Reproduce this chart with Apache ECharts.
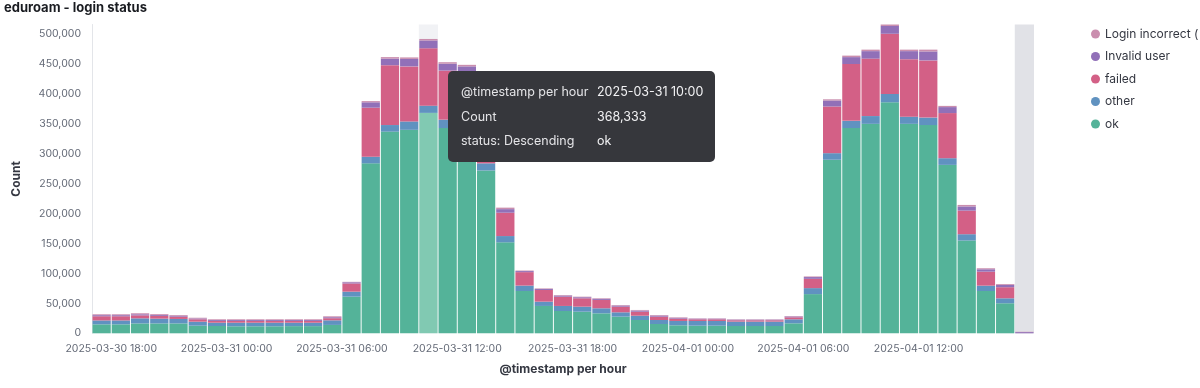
<!DOCTYPE html>
<html>
<head>
<meta charset="utf-8">
<script src="https://cdn.jsdelivr.net/npm/echarts@6/dist/echarts.min.js"></script>
<style>
html,body{margin:0;padding:0;background:#fff;}
#chart{width:1200px;height:388px;}
</style>
</head>
<body>
<div id="chart"></div>
<script>
// ---- data ----
const hours = [
  '2025-03-30 17:00','2025-03-30 18:00','2025-03-30 19:00','2025-03-30 20:00','2025-03-30 21:00','2025-03-30 22:00','2025-03-30 23:00',
  '2025-03-31 00:00','2025-03-31 01:00','2025-03-31 02:00','2025-03-31 03:00','2025-03-31 04:00','2025-03-31 05:00',
  '2025-03-31 06:00','2025-03-31 07:00','2025-03-31 08:00','2025-03-31 09:00','2025-03-31 10:00','2025-03-31 11:00',
  '2025-03-31 12:00','2025-03-31 13:00','2025-03-31 14:00','2025-03-31 15:00','2025-03-31 16:00','2025-03-31 17:00',
  '2025-03-31 18:00','2025-03-31 19:00','2025-03-31 20:00','2025-03-31 21:00','2025-03-31 22:00','2025-03-31 23:00',
  '2025-04-01 00:00','2025-04-01 01:00','2025-04-01 02:00','2025-04-01 03:00','2025-04-01 04:00','2025-04-01 05:00',
  '2025-04-01 06:00','2025-04-01 07:00','2025-04-01 08:00','2025-04-01 09:00','2025-04-01 10:00','2025-04-01 11:00',
  '2025-04-01 12:00','2025-04-01 13:00','2025-04-01 14:00','2025-04-01 15:00','2025-04-01 16:00','2025-04-01 17:00'
];
const okCounts = [15000,15000,16500,16500,16500,12700,12200,
  11700,11700,11700,12000,12000,14000,61200,284000,337000,340000,368333,343000,338000,272000,152000,70700,45700,37300,36100,33400,27800,22200,15500,13400,
  12700,12700,12200,12200,12200,16700,65500,290000,343000,350000,386000,350000,348000,281400,155000,70700,50200,0];
const otherCounts = [6500,6500,8500,8000,7500,6700,5500,
  6000,6000,6000,5700,5700,7700,8400,11000,11000,14000,12000,14000,13000,12000,10500,9000,7200,8400,8400,8400,7300,7200,6700,7200,
  7900,7900,7300,7300,7300,6700,10000,11000,12000,13000,14000,12000,12500,11200,10600,8900,8300,0];
const failedCounts = [7000,7000,5000,4500,3800,4000,3000,
  3000,3000,3000,3000,3000,3500,13700,82000,100000,92000,96000,82000,83000,75000,39000,22500,19500,15500,14000,14000,9400,6700,5600,3900,
  2800,2800,2300,2300,2300,3300,15500,78000,95000,96000,100500,96000,95500,75400,39400,23400,18500,0];
const invalidUserCounts = [1800,1800,1800,1500,1500,1400,1500,
  1500,1500,1500,1500,1500,1700,2000,9000,11000,12500,13000,11500,12000,9000,6000,1800,1700,1900,1800,1900,1900,2000,1900,1400,
  1000,1000,1000,1000,1000,1400,3000,10000,11500,12500,13000,13500,15000,10000,7000,4000,4000,2000];
const loginIncorrectCounts = [1500,1500,1700,1500,1300,1200,1200,
  1200,1200,1200,1200,1200,1500,700,2000,2500,2500,2500,2500,2600,2000,2500,900,900,900,900,900,900,900,900,800,
  600,600,600,600,600,800,1000,2000,2500,2500,2500,2500,3000,2000,2500,1700,1400,500];
const loginIncorrectName = 'Login incorrect (mschap: MS-CHAP2-Response is incorrect)';
const seriesNames = ['ok', 'other', 'failed', 'Invalid user', loginIncorrectName];
const legendOrder = [loginIncorrectName, 'Invalid user', 'failed', 'other', 'ok'];
const yTickStep = 50000;
const xLabelEveryHours = 6;
const hoveredIndex = 17;      // 2025-03-31 10:00 (tooltip)
const partialIndex = 48;      // 2025-04-01 17:00 (partial bucket)

// ---- helpers ----
const HOUR = 3600 * 1000;
function parseLocal(s) {
  const [d, t] = s.split(' ');
  const [Y, M, D] = d.split('-').map(Number);
  const [h, m] = t.split(':').map(Number);
  return new Date(Y, M - 1, D, h, m).getTime();
}
function pad(n) { return (n < 10 ? '0' : '') + n; }
function fmtTime(ms) {
  const d = new Date(ms);
  return d.getFullYear() + '-' + pad(d.getMonth() + 1) + '-' + pad(d.getDate()) + ' ' + pad(d.getHours()) + ':' + pad(d.getMinutes());
}
function fmtNum(v) { return Number(v).toLocaleString('en-US'); }

const startTime = parseLocal(hours[0]);
const bucketCount = hours.length;

const colors = ['#54B399', '#6092C0', '#D36086', '#9170B8', '#CA8EAE'];
const valueArrays = [okCounts, otherCounts, failedCounts, invalidUserCounts, loginIncorrectCounts];

const series = seriesNames.map((name, si) => ({
  name: name,
  type: 'bar',
  stack: 'total',
  xAxisIndex: 0,
  barCategoryGap: '5%',
  itemStyle: { color: colors[si] },
  emphasis: { disabled: true },
  data: valueArrays[si].map((v, i) => (si === 0 && i === hoveredIndex)
    ? { value: v, itemStyle: { color: '#81c9b2' } }
    : v)
}));
// background bands (hover column, partial bucket) on the hour-scale axis
series.push({
  name: 'bands',
  type: 'line',
  xAxisIndex: 1,
  data: [],
  silent: true,
  markArea: {
    silent: true,
    z: 1,
    data: [
      [{ xAxis: hoveredIndex, itemStyle: { color: '#f1f2f5' } }, { xAxis: hoveredIndex + 1 }],
      [{ xAxis: partialIndex, itemStyle: { color: '#e1e2e7' } }, { xAxis: partialIndex + 1 }]
    ]
  }
});

const FONT = 'Inter, "Noto Sans", sans-serif';
const chart = echarts.init(document.getElementById('chart'), null, { renderer: 'canvas' });
chart.setOption({
  animation: false,
  textStyle: { fontFamily: FONT },
  title: {
    text: 'eduroam - login status',
    left: 4, top: 2, padding: 0,
    textStyle: { fontFamily: FONT, fontSize: 13, fontWeight: 'bold', color: '#1a1c21' }
  },
  legend: {
    orient: 'vertical',
    left: 1086, top: 22,
    icon: 'circle',
    itemWidth: 9, itemHeight: 9,
    itemGap: 8.5,
    itemTextGap: 7,
    selectedMode: false,
    data: legendOrder,
    textStyle: {
      fontFamily: FONT, fontSize: 12, color: '#343741', lineHeight: 14,
      width: 103, overflow: 'truncate', ellipsis: ''
    }
  },
  grid: { left: 92, right: 166, top: 24.5, bottom: 54.7, containLabel: false },
  tooltip: {
    trigger: 'item',
    triggerOn: 'none',
    alwaysShowContent: true,
    transitionDuration: 0,
    backgroundColor: '#36373c',
    borderWidth: 0,
    padding: [9, 12, 8, 13],
    extraCssText: 'box-shadow:none;border-radius:5px;',
    textStyle: { fontFamily: FONT, fontSize: 12.5, color: '#e4e4e7' },
    position: function (point, params, dom, rect) {
      if (rect) return [rect.x + rect.width + 10, rect.y - 42];
      return [448, 72];
    },
    formatter: function (p) {
      const td1 = 'style="width:136px;padding:0;line-height:24.5px;white-space:nowrap;"';
      const td2 = 'style="padding:0;line-height:24.5px;white-space:nowrap;color:#f2f2f4;"';
      return '<table style="border-collapse:collapse;font-family:' + FONT.replace(/"/g, "'") + ';font-size:12.5px;">' +
        '<tr><td ' + td1 + '>@timestamp per hour</td><td ' + td2 + '>' + hours[p.dataIndex] + '</td></tr>' +
        '<tr><td ' + td1 + '>Count</td><td ' + td2 + '>' + fmtNum(p.value) + '</td></tr>' +
        '<tr><td ' + td1 + '>status: Descending</td><td ' + td2 + '>' + p.seriesName + '</td></tr>' +
        '</table>';
    }
  },
  xAxis: [
    {
      // bucket axis for the stacked bars
      type: 'category',
      data: hours,
      boundaryGap: true,
      axisLine: { show: false },
      axisTick: { show: false },
      axisLabel: { show: false },
      splitLine: { show: false }
    },
    {
      // hour scale (bucket edges) for tick labels and axis title
      type: 'value',
      min: 0, max: bucketCount, interval: 1,
      position: 'bottom',
      name: '@timestamp per hour',
      nameLocation: 'middle',
      nameGap: 30,
      nameTextStyle: { fontFamily: FONT, fontSize: 12, fontWeight: 'bold', color: '#343741' },
      axisLine: { show: false },
      axisTick: { show: false },
      splitLine: { show: false },
      axisLabel: {
        margin: 10,
        fontFamily: FONT, fontSize: 10.5, color: '#646a77',
        formatter: function (v) {
          const t = startTime + v * HOUR;
          const d = new Date(t);
          if (v <= 0 || v >= bucketCount || d.getHours() % xLabelEveryHours !== 0) return '';
          return fmtTime(t);
        }
      }
    }
  ],
  yAxis: {
    type: 'value',
    min: 0, max: 'dataMax',
    interval: yTickStep,
    name: 'Count',
    nameLocation: 'middle',
    nameGap: 70,
    nameTextStyle: { fontFamily: FONT, fontSize: 12, fontWeight: 'bold', color: '#343741' },
    axisLine: { show: true, lineStyle: { color: '#e3e5e9', width: 1 } },
    axisTick: { show: false },
    splitLine: { show: false },
    axisLabel: {
      showMaxLabel: false,
      margin: 11,
      fontFamily: FONT, fontSize: 10.5, color: '#646a77',
      formatter: function (v) { return v % yTickStep === 0 ? fmtNum(v) : ''; }
    }
  },
  series: series
});

function showTip() {
  chart.dispatchAction({ type: 'showTip', seriesIndex: 0, dataIndex: hoveredIndex });
}
showTip();
setTimeout(showTip, 30);
</script>
</body>
</html>
